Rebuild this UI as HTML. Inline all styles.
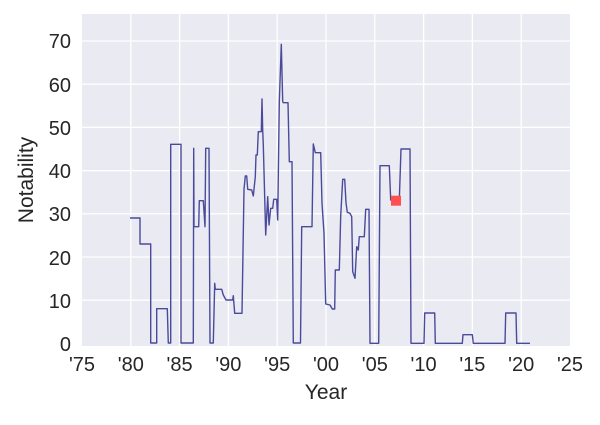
<!DOCTYPE html>
<html><head><style>body{margin:0;background:#fff}</style></head><body>
<svg width="600" height="420" xmlns="http://www.w3.org/2000/svg" font-family="Liberation Sans, sans-serif">
<rect x="82" y="14" width="488" height="332" fill="#eaeaf2"/>
<g stroke="#fff" stroke-width="1.3">
<line x1="130.8" y1="14" x2="130.8" y2="346"/><line x1="179.6" y1="14" x2="179.6" y2="346"/><line x1="228.4" y1="14" x2="228.4" y2="346"/><line x1="277.2" y1="14" x2="277.2" y2="346"/><line x1="326" y1="14" x2="326" y2="346"/><line x1="374.8" y1="14" x2="374.8" y2="346"/><line x1="423.6" y1="14" x2="423.6" y2="346"/><line x1="472.4" y1="14" x2="472.4" y2="346"/><line x1="521.2" y1="14" x2="521.2" y2="346"/>
<line x1="82" y1="41" x2="570" y2="41"/><line x1="82" y1="84.2" x2="570" y2="84.2"/><line x1="82" y1="127.4" x2="570" y2="127.4"/><line x1="82" y1="170.6" x2="570" y2="170.6"/><line x1="82" y1="213.8" x2="570" y2="213.8"/><line x1="82" y1="257" x2="570" y2="257"/><line x1="82" y1="300.2" x2="570" y2="300.2"/>
</g>
<polyline fill="none" stroke="#4a4a9c" stroke-width="1.4" stroke-linejoin="round" points="130,218 140,218 140,244 150.7,244 150.7,343 156.7,343 156.7,308.7 167.3,308.7 168.3,343 170.7,343 170.7,144.3 181,144.3 181,343 193.3,343 193.7,148.3 194,226.7 198.7,226.7 199.3,200.7 203.3,200.7 205,226.7 205.7,148.3 209,148.3 210,343 213.3,343 214.7,283.3 215.3,289.3 221.7,289.3 223.3,295 226,300 232.7,300 233.3,295.7 234.7,313.3 242,313.3 244,189.3 245.3,176 246.7,176 247.7,189.3 251.7,190 253.3,196 255.3,176.7 256,155 257.3,155 258.3,131.7 261.3,131.7 262,99 262.7,130 263.3,145 265.7,235 267.7,196.7 269,225 270.7,208.3 272.7,208.3 273.7,199.3 276.7,199.3 277.7,220 279.3,101.7 281.3,44.3 282.7,101.7 283.3,102.7 288,102.7 289.3,161.7 292,161.7 293.3,343 300.5,343 301.7,226.7 312,226.7 313.3,144 315.3,152.7 320.7,152.7 322,203.3 324,233.3 325.7,304 330,305 332.3,309 334.7,309 335.3,270 339.3,270 340.7,216 342.7,179.3 344.7,179.3 346,202.7 347.3,212.3 350,213.3 351.7,216.7 352.7,271.7 355,278.3 356.7,246.7 358.3,250 359.3,236.7 364.3,236.7 365.7,209.3 369,209.3 370,343.3 378.7,343.3 380,165.7 389.3,165.7 390.7,200 399.3,200 401,149 410,149 411,343.3 424,343.3 424.7,313 434.7,313 435.3,343.3 462.3,343.3 463,334.7 472.3,334.7 473.3,343.3 505,343.3 505.7,313 516,313 516.7,343.3 530,343.3"/>
<rect x="391" y="195.7" width="10" height="10" fill="#ff4f4f"/>
<g font-size="20" fill="#262626" text-anchor="end">
<text x="71" y="351">0</text><text x="71" y="308">10</text><text x="71" y="265">20</text><text x="71" y="221">30</text><text x="71" y="178">40</text><text x="71" y="135">50</text><text x="71" y="92">60</text><text x="71" y="48">70</text>
</g>
<g font-size="20" fill="#262626" text-anchor="middle">
<text x="82" y="371">'75</text><text x="130.8" y="371">'80</text><text x="179.6" y="371">'85</text><text x="228.4" y="371">'90</text><text x="277.2" y="371">'95</text><text x="326" y="371">'00</text><text x="374.8" y="371">'05</text><text x="423.6" y="371">'10</text><text x="472.4" y="371">'15</text><text x="521.2" y="371">'20</text><text x="570" y="371">'25</text>
<text x="326" y="399" font-size="21">Year</text>
<text x="0" y="0" font-size="21" transform="translate(33,180) rotate(-90)">Notability</text>
</g>
</svg>
</body></html>
